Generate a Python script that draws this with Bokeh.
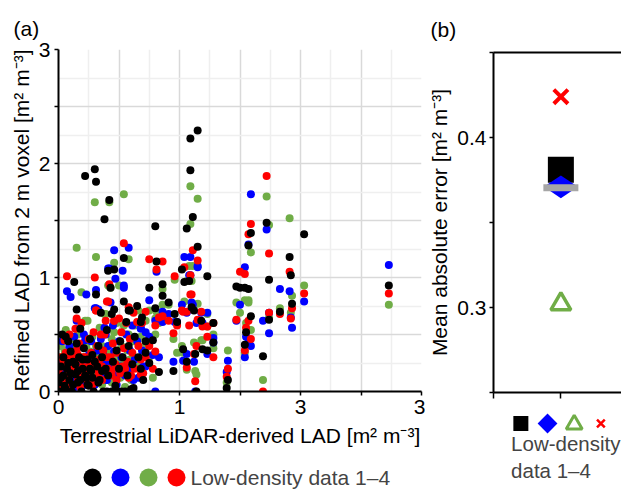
import math
from bokeh.plotting import figure
from bokeh.layouts import row, column
from bokeh.models import Range1d, FixedTicker, LinearAxis, Label
from bokeh.embed import file_html
from bokeh.resources import INLINE

# ---------------- data ----------------
# Terrestrial LiDAR-derived LAD (x) for each voxel
tls_lad = [
    0.22, 0.30, 0.31, 0.42, 0.38, 0.54, 0.15, 1.09, 1.15, 1.09,
    1.11, 1.06, 1.15, 0.80, 0.81, 0.86, 0.75, 0.46, 0.58, 0.41,
    0.96, 1.04, 1.08, 1.59, 1.72, 1.57, 1.74, 1.91, 1.92, 2.03,
    1.93, 1.83, 2.73, 1.74, 1.50, 1.54, 1.47, 1.57, 1.59, 1.55,
    1.54, 1.69, 1.40, 1.39, 0.86, 0.91, 0.95, 0.98, 1.02, 1.03,
    1.06, 1.10, 1.12, 1.13, 1.14, 1.18, 1.23, 1.28, 1.28, 1.19,
    1.23, 0.75, 0.72, 0.68, 0.78, 0.83, 0.80, 0.01, 0.02, 0.03,
    0.04, 0.05, 0.06, 0.07, 0.08, 0.09, 0.10, 0.11, 0.12, 0.13,
    0.14, 0.15, 0.16, 0.17, 0.18, 0.19, 0.20, 0.21, 0.23, 0.24,
    0.25, 0.26, 0.27, 0.28, 0.29, 0.31, 0.32, 0.33, 0.34, 0.35,
    0.36, 0.37, 0.39, 0.40, 0.41, 0.43, 0.44, 0.45, 0.46, 0.47,
    0.48, 0.50, 0.51, 0.52, 0.53, 0.54, 0.56, 0.57, 0.58, 0.59,
    0.61, 0.62, 0.63, 0.65, 0.66, 0.68, 0.69, 0.70, 0.72, 0.00,
    0.02, 0.04, 0.06, 0.08, 0.10, 0.12, 0.14, 0.16, 0.18, 0.20,
    0.22, 0.24, 0.26, 0.28, 0.30, 0.33, 0.36, 0.40, 0.44, 0.48,
    0.55, 0.60,
]

# Refined LAD from 2 m voxel, low-density data 1 (black)
lad_data1 = [
    1.89, 1.95, 1.84, 1.68, 1.51, 1.17, 0.72, 2.22, 2.29, 1.94,
    1.53, 1.43, 1.27, 1.45, 1.14, 0.94, 0.91, 1.07, 0.71, 1.06,
    0.68, 0.96, 0.97, 1.39, 1.48, 1.28, 0.98, 1.18, 1.02, 1.38,
    0.77, 0.70, 0.93, 0.63, 0.91, 0.91, 0.92, 0.90, 0.66, 0.52,
    0.41, 0.31, 0.10, 0.03, 0.84, 0.78, 0.18, 0.61, 1.07, 0.37,
    0.26, 0.74, 0.71, 0.33, 0.00, 0.62, 0.36, 0.60, 0.43, 0.37,
    1.01, 0.25, 0.34, 0.61, 0.45, 0.17, 0.73, 0.00, 0.12, 0.50,
    0.30, 0.05, 0.48, 0.20, 0.44, 0.10, 0.35, 0.00, 0.26, 0.96,
    0.15, 0.42, 0.08, 0.30, 0.55, 0.00, 0.20, 0.38, 0.12, 0.28,
    0.05, 0.46, 0.18, 0.32, 0.00, 0.85, 0.22, 0.40, 0.10, 0.69,
    0.30, 0.00, 0.20, 0.54, 0.14, 0.91, 0.68, 0.26, 0.72, 0.05,
    0.36, 0.20, 0.44, 0.00, 0.30, 0.79, 0.61, 0.14, 0.40, 0.71,
    0.24, 0.03, 0.48, 0.75, 0.30, 0.20, 0.65, 0.10, 0.44, 0.08,
    0.22, 0.14, 0.02, 0.25, 0.16, 0.06, 0.24, 0.18, 0.10, 0.28,
    0.14, 0.06, 0.20, 0.12, 0.26, 0.08, 0.18, 0.00, 0.00, 0.00,
    0.00, 0.02,
]

# low-density data 2 (blue)
lad_data2 = [
    0.45, 0.73, 0.89, 1.08, 0.56, 0.93, 0.62, 1.18, 1.09, 1.02,
    0.76, 0.69, 1.10, 0.62, 1.05, 0.70, 0.80, 1.24, 1.26, 1.08,
    0.61, 1.18, 1.02, 1.73, 1.42, 1.29, 0.51, 0.88, 0.65, 0.79,
    0.56, 0.90, 1.11, 0.69, 0.76, 1.09, 0.62, 0.43, 0.40, 0.48,
    0.30, 0.62, 0.27, 0.17, 0.61, 0.68, 0.26, 0.61, 0.76, 0.27,
    0.33, 0.78, 0.26, 0.00, 0.60, 0.69, 0.33, 0.47, 0.43, 0.60,
    0.69, 0.48, 0.22, 0.56, 0.32, 0.30, 0.00, 0.05, 0.25, 0.44,
    0.20, 0.12, 0.30, 0.88, 0.15, 0.40, 0.83, 0.08, 0.35, 0.48,
    0.22, 0.10, 0.30, 0.16, 0.40, 0.25, 0.05, 0.50, 0.85, 0.18,
    0.32, 0.12, 0.44, 0.26, 0.08, 0.73, 0.36, 0.72, 0.20, 0.46,
    0.12, 0.32, 0.50, 0.26, 0.40, 0.78, 0.18, 0.58, 0.35, 0.99,
    0.14, 0.44, 0.22, 0.30, 1.06, 0.91, 0.50, 0.24, 0.16, 0.36,
    0.58, 0.10, 0.28, 0.44, 0.12, 0.55, 0.36, 0.22, 0.52, 0.02,
    0.10, 0.28, 0.18, 0.06, 0.24, 0.14, 0.04, 0.20, 0.12, 0.26,
    0.08, 0.30, 0.14, 0.22, 0.06, 0.18, 0.28, 0.10, 0.22, 0.06,
    0.14, 0.20,
]

# low-density data 3 (green)
lad_data3 = [
    0.62, 1.66, 1.18, 1.66, 0.68, 1.73, 1.26, 1.80, 1.69, 1.47,
    1.10, 0.97, 0.77, 0.64, 0.70, 0.76, 0.71, 1.13, 1.16, 0.93,
    0.98, 0.79, 1.10, 1.22, 1.71, 0.80, 1.46, 1.52, 0.69, 0.93,
    0.84, 0.73, 0.76, 0.65, 0.69, 0.80, 0.78, 0.78, 0.54, 0.60,
    0.34, 0.10, 0.36, 0.08, 0.90, 0.76, 0.46, 0.34, 0.40, 0.34,
    0.19, 0.97, 0.43, 0.18, 0.15, 0.45, 0.57, 0.50, 0.38, 0.45,
    0.68, 0.30, 0.42, 0.20, 0.12, 0.60, 0.50, 0.02, 0.40, 0.20,
    0.05, 0.36, 0.54, 0.10, 0.28, 0.18, 0.46, 0.25, 0.06, 0.40,
    0.32, 0.14, 0.50, 0.22, 0.08, 0.87, 0.30, 0.12, 0.40, 0.62,
    0.20, 0.35, 0.10, 0.48, 0.26, 0.40, 0.14, 0.30, 0.56, 0.24,
    0.40, 0.18, 0.68, 0.10, 0.34, 0.91, 0.46, 0.22, 0.52, 0.30,
    0.60, 0.93, 0.12, 0.40, 0.26, 0.58, 0.18, 0.36, 0.50, 0.28,
    0.12, 0.44, 0.58, 0.22, 0.71, 0.48, 0.30, 0.36, 0.62, 0.12,
    0.30, 0.08, 0.22, 0.14, 0.32, 0.20, 0.10, 0.28, 0.16, 0.06,
    0.24, 0.18, 0.08, 0.30, 0.12, 0.22, 0.06, 0.16, 0.08, 0.26,
    0.04, 0.10,
]

# low-density data 4 (red)
lad_data4 = [
    0.30, 1.00, 0.71, 0.94, 0.50, 1.30, 0.64, 0.85, 1.15, 1.02,
    1.24, 0.70, 0.63, 0.58, 1.07, 1.14, 1.16, 0.62, 0.74, 0.79,
    1.01, 1.09, 0.58, 1.47, 1.89, 1.38, 1.21, 1.05, 0.64, 0.86,
    0.73, 0.68, 0.86, 0.69, 1.05, 1.03, 0.63, 0.62, 0.46, 0.56,
    0.36, 0.00, 0.20, 0.13, 0.66, 0.62, 0.51, 0.58, 0.71, 0.70,
    0.21, 0.85, 0.33, 0.09, 0.40, 0.70, 0.48, 0.30, 0.60, 0.57,
    0.57, 0.40, 0.30, 0.15, 0.20, 0.65, 0.35, 0.10, 0.30, 0.08,
    0.22, 0.45, 0.34, 1.01, 0.12, 0.50, 0.26, 0.32, 0.18, 0.22,
    0.55, 0.36, 0.10, 0.42, 0.28, 0.60, 0.15, 0.30, 0.20, 0.08,
    0.46, 0.24, 0.34, 0.12, 0.52, 0.71, 0.40, 0.18, 0.28, 0.50,
    0.10, 0.36, 0.62, 0.79, 0.20, 0.30, 0.14, 0.42, 0.62, 0.24,
    0.34, 0.64, 0.16, 0.52, 0.22, 0.38, 0.60, 0.26, 0.12, 0.46,
    0.34, 0.69, 0.20, 0.61, 0.40, 0.28, 0.60, 0.16, 0.70, 0.18,
    0.05, 0.26, 0.14, 0.30, 0.06, 0.24, 0.16, 0.32, 0.04, 0.22,
    0.12, 0.28, 0.18, 0.06, 0.24, 0.14, 0.22, 0.30, 0.18, 0.10,
    0.20, 0.14,
]

series_names = ["Low-density data 1", "Low-density data 2",
                "Low-density data 3", "Low-density data 4"]
series_colors = ["#000000", "#0000ff", "#70ad47", "#ff0000"]

# panel (b): mean absolute error for each data set
mae_values = [0.381, 0.371, 0.302, 0.424]
mae_reference = 0.3705
mae_position = 1

x_tick_values = [0, 1, 2, 3]
x_tick_labels = ["0", "1", "3", "3"]
y_tick_values = [0, 1, 2, 3]

FONT = "Liberation Sans"
FS = "21px"


def style_title(p, text, offset, standoff):
    p.title.text = text
    p.title.align = "left"
    p.title.offset = offset
    p.title.standoff = standoff
    p.title.text_font = FONT
    p.title.text_font_size = FS
    p.title.text_font_style = "normal"
    p.title.text_color = "black"


# ---------------- panel (a) ----------------
pa = figure(width=425, height=455, x_range=Range1d(0, 3), y_range=Range1d(0, 3),
            output_backend="svg", toolbar_location=None,
            min_border_left=58, min_border_right=4, min_border_top=49,
            min_border_bottom=64)
pa.outline_line_color = None
style_title(pa, "(a)", -45, 20)

grid_major = [0, 0.5, 1, 1.5, 2, 2.5, 3]
grid_minor = [0.25, 0.75, 1.25, 1.75, 2.25, 2.75]
for g in (pa.xgrid[0], pa.ygrid[0]):
    g.ticker = FixedTicker(ticks=grid_major, minor_ticks=grid_minor)
    g.grid_line_color = "#d9d9d9"
    g.grid_line_width = 1.5
    g.minor_grid_line_color = "#efefef"
    g.minor_grid_line_width = 1.5

for ax in (pa.xaxis[0], pa.yaxis[0]):
    ax.axis_line_color = "black"
    ax.axis_line_width = 2
    ax.major_tick_in = 0
    ax.major_tick_out = 4
    ax.minor_tick_in = 0
    ax.minor_tick_out = 4
    ax.major_tick_line_width = 1.5
    ax.minor_tick_line_width = 1.5
    ax.major_tick_line_color = "black"
    ax.minor_tick_line_color = "black"
    ax.major_label_text_font = FONT
    ax.major_label_text_font_size = FS
    ax.major_label_text_color = "black"
    ax.axis_label_text_font = FONT
    ax.axis_label_text_font_size = FS
    ax.axis_label_text_font_style = "normal"
    ax.axis_label_text_color = "black"
    ax.major_label_standoff = 4

pa.xaxis.ticker = FixedTicker(ticks=x_tick_values, minor_ticks=[0.5, 1.5, 2.5])
pa.xaxis.major_label_overrides = {v: s for v, s in zip(x_tick_values, x_tick_labels)}
pa.yaxis.ticker = FixedTicker(ticks=y_tick_values, minor_ticks=[0.5, 1.5, 2.5])
pa.xaxis.axis_label = "Terrestrial LiDAR-derived LAD [m² m⁻³]"
pa.yaxis.axis_label = "Refined LAD from 2 m voxel [m² m⁻³]"
pa.xaxis.axis_label_standoff = 7
pa.yaxis.axis_label_standoff = 3

series_y = [lad_data1, lad_data2, lad_data3, lad_data4]
for idx in (2, 1, 3, 0):
    pa.scatter(tls_lad, series_y[idx], size=8, fill_color=series_colors[idx],
               line_color=None)

# legend row under panel (a); its frame is aligned with the frame of panel (a)
la_frame = 363
la_first, la_pitch = 34, 28
la = figure(width=425, height=35,
            x_range=Range1d(-la_first / la_pitch, (la_frame - la_first) / la_pitch),
            y_range=Range1d(35, 0), x_axis_type=None, y_axis_type=None,
            output_backend="svg", toolbar_location=None,
            min_border=0, min_border_left=0, min_border_right=0,
            min_border_top=0, min_border_bottom=0)
la.outline_line_color = None
la.scatter(list(range(len(series_names))), [22] * len(series_names), size=18,
           fill_color=series_colors, line_color=None)
la.add_layout(Label(x=3.5, y=22, text="Low-density data 1–4", text_font=FONT,
                    text_font_size=FS, text_baseline="middle", text_align="left"))

# ---------------- panel (b) ----------------
pb = figure(width=196, height=405, x_range=Range1d(0, 1.9),
            y_range=Range1d(0.25, 0.45), output_backend="svg",
            toolbar_location=None, min_border_left=65, min_border_right=0,
            min_border_top=52, min_border_bottom=13)
pb.outline_line_color = None
pb.xgrid.visible = False
pb.ygrid.visible = False
style_title(pb, "(b)", -63, 23)

for ax in (pb.xaxis[0], pb.yaxis[0]):
    ax.axis_line_color = "black"
    ax.axis_line_width = 2
    ax.major_tick_in = 0
    ax.minor_tick_in = 0
    ax.major_tick_line_width = 1.5
    ax.minor_tick_line_width = 1.5
    ax.major_tick_line_color = "black"
    ax.minor_tick_line_color = "black"
    ax.major_label_text_font = FONT
    ax.major_label_text_font_size = FS
    ax.major_label_text_color = "black"
    ax.axis_label_text_font = FONT
    ax.axis_label_text_font_size = FS
    ax.axis_label_text_font_style = "normal"
    ax.axis_label_text_color = "black"

pb.yaxis.ticker = FixedTicker(ticks=[0.3, 0.4], minor_ticks=[0.25, 0.35, 0.45])
pb.yaxis.major_tick_out = 4
pb.yaxis.minor_tick_out = 4
pb.yaxis.major_label_standoff = 3
pb.yaxis.axis_label = "Mean absolute error [m² m⁻³]"
pb.yaxis.axis_label_standoff = 3

pb.xaxis.ticker = FixedTicker(ticks=[0, mae_position], minor_ticks=[])
pb.xaxis.major_tick_out = 6
pb.xaxis.minor_tick_out = 0
pb.xaxis.major_label_overrides = {0: "", mae_position: ""}
pb.xaxis.major_label_text_font_size = "1px"
pb.xaxis.major_label_standoff = 0

top_axis = LinearAxis(ticker=FixedTicker(ticks=[], minor_ticks=[]),
                      axis_line_width=2, axis_line_color="black",
                      major_tick_line_color=None, minor_tick_line_color=None,
                      major_label_text_font_size="1px", major_label_standoff=0)
pb.add_layout(top_axis, "above")

pb.scatter([mae_position], [mae_values[0]], marker="square", size=26,
           fill_color=series_colors[0], line_color=None)
pb.scatter([mae_position], [mae_values[1]], marker="diamond", size=34,
           angle=math.pi / 2, fill_color=series_colors[1], line_color=None)
pb.scatter([mae_position], [mae_reference], marker="dash", size=35,
           line_color="#a6a6a6", line_width=7)
pb.scatter([mae_position], [mae_values[2]], marker="triangle", size=20,
           fill_color=None, line_color=series_colors[2], line_width=3.5)
pb.scatter([mae_position], [mae_values[3]], marker="x", size=20,
           line_color=series_colors[3], line_width=4)

# legend under panel (b); its frame is aligned with the frame of panel (b)
lb_frame = 131
lb_first, lb_pitch = 28, 27.3
lb = figure(width=196, height=85,
            x_range=Range1d(-lb_first / lb_pitch, (lb_frame - lb_first) / lb_pitch),
            y_range=Range1d(85, 0), x_axis_type=None, y_axis_type=None,
            output_backend="svg", toolbar_location=None,
            min_border=0, min_border_left=0, min_border_right=0,
            min_border_top=0, min_border_bottom=0)
lb.outline_line_color = None
lb.scatter([0], [18], marker="square", size=15, fill_color=series_colors[0],
           line_color=None)
lb.scatter([1], [18], marker="square", size=14, angle=math.pi / 4,
           fill_color=series_colors[1], line_color=None)
lb.scatter([2], [19], marker="triangle", size=16, fill_color=None,
           line_color=series_colors[2], line_width=3)
lb.scatter([3], [18], marker="x", size=11, line_color=series_colors[3],
           line_width=2.5)
lb.add_layout(Label(x=-0.366, y=38, text="Low-density", text_font=FONT,
                    text_font_size="20.5px", text_baseline="middle", text_align="left"))
lb.add_layout(Label(x=-0.366, y=65, text="data 1–4", text_font=FONT,
                    text_font_size="20.5px", text_baseline="middle", text_align="left"))

layout = row(column(pa, la), column(pb, lb))
open("out.html", "w").write(file_html(layout, INLINE))
